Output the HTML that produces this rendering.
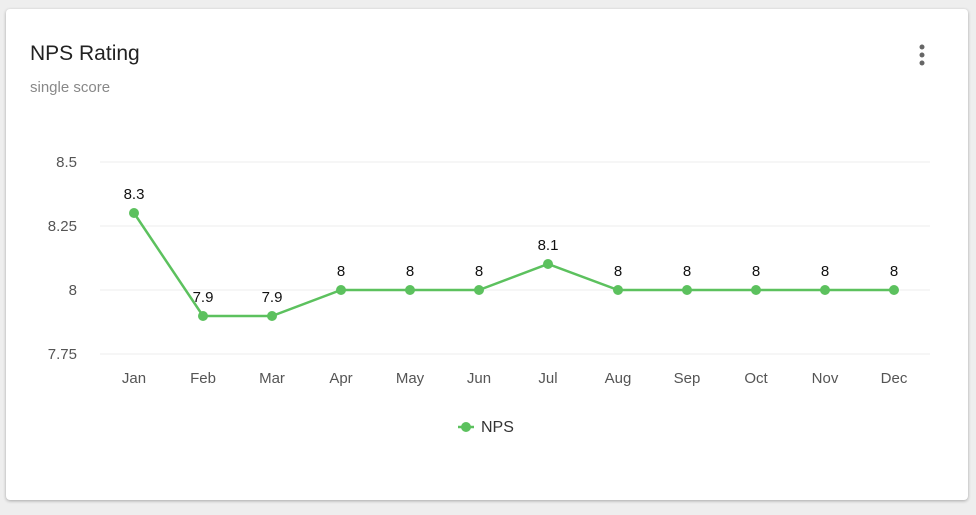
<!DOCTYPE html><html><head><style>
body{margin:0;background:#eeeeee;font-family:"Liberation Sans",sans-serif;}
.card{position:absolute;left:6px;top:9px;width:962px;height:491px;background:#fff;border-radius:4px;box-shadow:0 1px 3px rgba(0,0,0,.3);}
</style></head><body>
<div class="card"></div>
<svg width="976" height="515" style="position:absolute;left:0;top:0" font-family="Liberation Sans, sans-serif">
<text x="30" y="60" font-size="21" fill="#222">NPS Rating</text>
<text x="30" y="92" font-size="15" fill="#888">single score</text>
<circle cx="922" cy="47" r="2.5" fill="#666"/><circle cx="922" cy="55" r="2.5" fill="#666"/><circle cx="922" cy="63" r="2.5" fill="#666"/>
<g stroke="#eee" stroke-width="1"><line x1="100" x2="930" y1="162" y2="162"/><line x1="100" x2="930" y1="226" y2="226"/><line x1="100" x2="930" y1="290" y2="290"/><line x1="100" x2="930" y1="354" y2="354"/></g>
<g font-size="15" fill="#555" text-anchor="end"><text x="77" y="167">8.5</text><text x="77" y="231">8.25</text><text x="77" y="295">8</text><text x="77" y="359">7.75</text></g>
<g font-size="15" fill="#555" text-anchor="middle">
<text x="134" y="383">Jan</text><text x="203" y="383">Feb</text><text x="272" y="383">Mar</text><text x="341" y="383">Apr</text><text x="410" y="383">May</text><text x="479" y="383">Jun</text><text x="548" y="383">Jul</text><text x="618" y="383">Aug</text><text x="687" y="383">Sep</text><text x="756" y="383">Oct</text><text x="825" y="383">Nov</text><text x="894" y="383">Dec</text></g>
<polyline fill="none" stroke="#5cc15e" stroke-width="2.5" points="134,213 203,316 272,316 341,290 410,290 479,290 548,264 618,290 687,290 756,290 825,290 894,290"/>
<g fill="#5cc15e"><circle cx="134" cy="213" r="5"/><circle cx="203" cy="316" r="5"/><circle cx="272" cy="316" r="5"/><circle cx="341" cy="290" r="5"/><circle cx="410" cy="290" r="5"/><circle cx="479" cy="290" r="5"/><circle cx="548" cy="264" r="5"/><circle cx="618" cy="290" r="5"/><circle cx="687" cy="290" r="5"/><circle cx="756" cy="290" r="5"/><circle cx="825" cy="290" r="5"/><circle cx="894" cy="290" r="5"/></g>
<g font-size="15" fill="#111" text-anchor="middle">
<text x="134" y="199">8.3</text><text x="203" y="302">7.9</text><text x="272" y="302">7.9</text><text x="341" y="276">8</text><text x="410" y="276">8</text><text x="479" y="276">8</text><text x="548" y="250">8.1</text><text x="618" y="276">8</text><text x="687" y="276">8</text><text x="756" y="276">8</text><text x="825" y="276">8</text><text x="894" y="276">8</text></g>
<line x1="458" x2="474" y1="427" y2="427" stroke="#5cc15e" stroke-width="2.5"/><circle cx="466" cy="427" r="5" fill="#5cc15e"/>
<text x="481" y="432" font-size="16" fill="#333">NPS</text>
</svg>
</body></html>
